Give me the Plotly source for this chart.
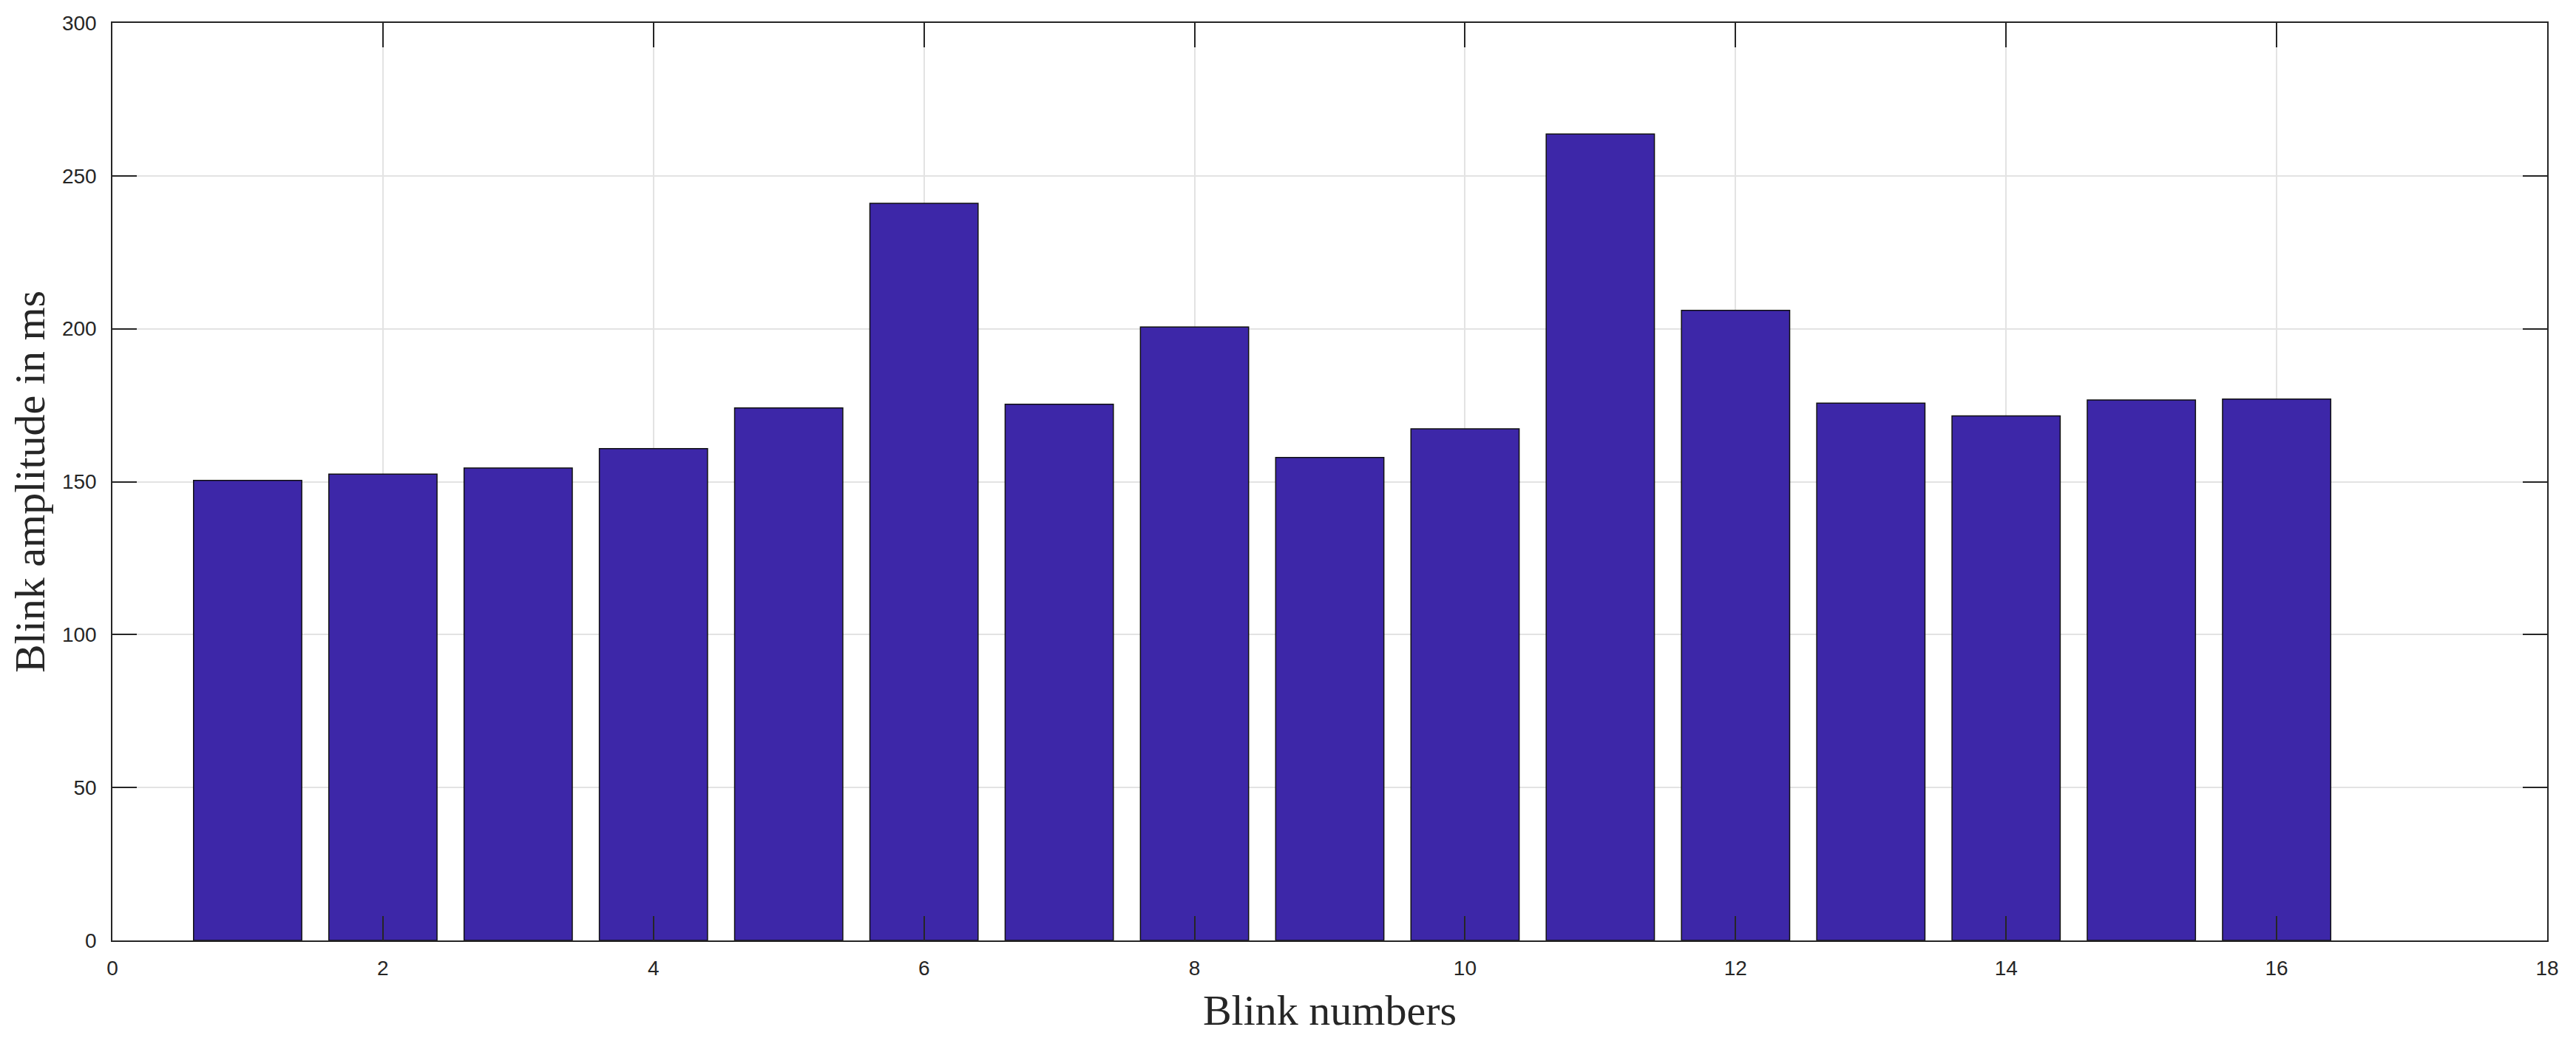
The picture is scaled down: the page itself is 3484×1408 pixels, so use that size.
import plotly.graph_objects as go

blink_numbers = list(range(1, 17))
amplitude_ms = [150.4, 152.5, 154.5, 160.8, 174.1, 241.0, 175.3, 200.6,
                157.9, 167.3, 263.7, 206.0, 175.7, 171.5, 176.7, 177.0]
x_ticks = [0, 2, 4, 6, 8, 10, 12, 14, 16, 18]
y_ticks = [0, 50, 100, 150, 200, 250, 300]

fig = go.Figure()
fig.add_trace(go.Bar(
    x=blink_numbers, y=amplitude_ms, width=0.8,
    marker=dict(color="#3D27A8", line=dict(color="#111111", width=1.5)),
))

axis_common = dict(
    showline=True, linecolor="#262626", linewidth=1.5, mirror="ticks",
    ticks="inside", ticklen=33, tickwidth=1.5, tickcolor="#262626",
    showgrid=True, gridcolor="#E3E3E3", gridwidth=1.5, zeroline=False,
    tickfont=dict(family="Liberation Sans, Arial, sans-serif", size=28, color="#262626"),
)

# page body has an 8px margin, so the figure is sized/margined to compensate
fig.update_layout(
    width=3476, height=1400,
    margin=dict(l=144, r=39, t=23, b=136, autoexpand=False),
    paper_bgcolor="white", plot_bgcolor="white",
    showlegend=False,
    xaxis=dict(
        range=[0, 18], tickvals=x_ticks, ticktext=[str(v) for v in x_ticks],
        ticklabelstandoff=12,
        title=dict(text="Blink numbers",
                   font=dict(family="Liberation Serif, Times New Roman, serif", size=58, color="#262626"),
                   standoff=21),
        **axis_common,
    ),
    yaxis=dict(
        range=[0, 300], tickvals=y_ticks, ticktext=[str(v) for v in y_ticks],
        ticklabelstandoff=14,
        title=dict(text="Blink amplitude in ms",
                   font=dict(family="Liberation Serif, Times New Roman, serif", size=58, color="#262626"),
                   standoff=16),
        **axis_common,
    ),
)

fig.write_html("out.html")
